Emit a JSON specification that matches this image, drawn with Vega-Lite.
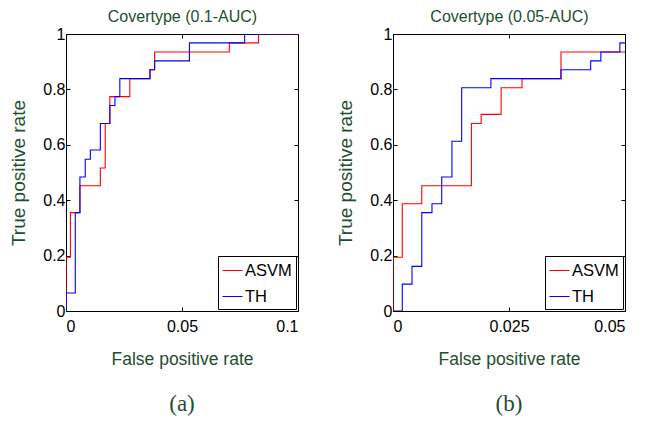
{
  "$schema": "https://vega.github.io/schema/vega-lite/v6.json",
  "padding": {"left": 9, "top": 8, "right": 5, "bottom": 2},
  "background": "white",
  "bounds": "flush",
  "spacing": 95,
  "resolve": {"scale": {"color": "independent"}, "legend": {"color": "independent"}},
  "config": {
    "font": "Liberation Sans",
    "view": {"stroke": "black", "strokeWidth": 1},
    "axis": {
      "labelFont": "Liberation Sans",
      "labelFontSize": 16,
      "labelColor": "black",
      "tickColor": "black",
      "tickSize": -4,
      "domain": false,
      "grid": false,
      "titleFont": "Liberation Sans",
      "titleColor": "#1e4e2e",
      "titleFontWeight": "normal"
    },
    "legend": {
      "orient": "bottom-right",
      "offset": 2,
      "strokeColor": "black",
      "fillColor": "white",
      "padding": 4,
      "cornerRadius": 0,
      "symbolType": "stroke",
      "symbolSize": 400,
      "symbolStrokeWidth": 1,
      "labelFont": "Liberation Sans",
      "labelFontSize": 16.5,
      "labelColor": "black",
      "labelOffset": 2,
      "rowPadding": 7
    },
    "title": {
      "font": "Liberation Serif",
      "fontWeight": "normal",
      "color": "#1e4e2e"
    }
  },
  "hconcat": [
    {
      "title": {"text": "(a)", "orient": "bottom", "frame": "group", "fontSize": 23, "offset": 25},
      "width": 232,
      "height": 277,
      "data": {"values": [
        {"method": "ASVM", "i": 0, "fpr": 0, "tpr": 0},
        {"method": "ASVM", "i": 1, "fpr": 0, "tpr": 0.194},
        {"method": "ASVM", "i": 2, "fpr": 0.0019, "tpr": 0.355},
        {"method": "ASVM", "i": 3, "fpr": 0.006, "tpr": 0.452},
        {"method": "ASVM", "i": 4, "fpr": 0.0148, "tpr": 0.516},
        {"method": "ASVM", "i": 5, "fpr": 0.0169, "tpr": 0.677},
        {"method": "ASVM", "i": 6, "fpr": 0.0189, "tpr": 0.774},
        {"method": "ASVM", "i": 7, "fpr": 0.0275, "tpr": 0.839},
        {"method": "ASVM", "i": 8, "fpr": 0.0362, "tpr": 0.871},
        {"method": "ASVM", "i": 9, "fpr": 0.0382, "tpr": 0.935},
        {"method": "ASVM", "i": 10, "fpr": 0.0704, "tpr": 0.968},
        {"method": "ASVM", "i": 11, "fpr": 0.083, "tpr": 1},
        {"method": "ASVM", "i": 12, "fpr": 0.1, "tpr": 1},
        {"method": "TH", "i": 0, "fpr": 0, "tpr": 0},
        {"method": "TH", "i": 1, "fpr": 0, "tpr": 0.065},
        {"method": "TH", "i": 2, "fpr": 0.004, "tpr": 0.355},
        {"method": "TH", "i": 3, "fpr": 0.006, "tpr": 0.484},
        {"method": "TH", "i": 4, "fpr": 0.0083, "tpr": 0.548},
        {"method": "TH", "i": 5, "fpr": 0.0105, "tpr": 0.581},
        {"method": "TH", "i": 6, "fpr": 0.0148, "tpr": 0.677},
        {"method": "TH", "i": 7, "fpr": 0.0189, "tpr": 0.742},
        {"method": "TH", "i": 8, "fpr": 0.0211, "tpr": 0.774},
        {"method": "TH", "i": 9, "fpr": 0.0232, "tpr": 0.839},
        {"method": "TH", "i": 10, "fpr": 0.0362, "tpr": 0.871},
        {"method": "TH", "i": 11, "fpr": 0.0382, "tpr": 0.903},
        {"method": "TH", "i": 12, "fpr": 0.0532, "tpr": 0.968},
        {"method": "TH", "i": 13, "fpr": 0.077, "tpr": 1},
        {"method": "TH", "i": 14, "fpr": 0.1, "tpr": 1}
      ]},
      "layer": [
        {
          "mark": {"type": "line", "interpolate": "step-after", "strokeWidth": 1.1, "clip": true},
          "encoding": {
            "x": {"field": "fpr", "type": "quantitative", "scale": {"domain": [0, 0.1], "nice": false, "zero": false},
                  "axis": {"orient": "bottom", "values": [0, 0.05, 0.1], "labelExpr": "datum.value", "labelPadding": 11, "title": "False positive rate", "titleFontSize": 17.5, "titlePadding": 16}},
            "y": {"field": "tpr", "type": "quantitative", "scale": {"domain": [0, 1], "nice": false},
                  "axis": {"orient": "left", "values": [0, 0.2, 0.4, 0.6, 0.8, 1], "labelExpr": "datum.value", "labelPadding": 5, "title": "True positive rate", "titleFontSize": 19, "titlePadding": 14}},
            "color": {"field": "method", "type": "nominal", "title": null, "scale": {"domain": ["ASVM", "TH"], "range": ["#ff0000", "#0000ff"]}},
            "order": {"field": "i", "type": "quantitative"}
          }
        },
        {
          "mark": {"type": "line", "interpolate": "step-after", "opacity": 0},
          "encoding": {
            "x": {"field": "fpr", "type": "quantitative", "axis": {"orient": "top", "values": [0, 0.05, 0.1], "labels": false, "title": "Covertype (0.1-AUC)", "titleFontSize": 16, "titlePadding": 9}},
            "y": {"field": "tpr", "type": "quantitative", "axis": {"orient": "right", "values": [0, 0.2, 0.4, 0.6, 0.8, 1], "labels": false, "title": null}},
            "detail": {"field": "method"},
            "order": {"field": "i", "type": "quantitative"}
          }
        }
      ],
      "resolve": {"axis": {"x": "independent", "y": "independent"}}
    },
    {
      "title": {"text": "(b)", "orient": "bottom", "frame": "group", "fontSize": 23, "offset": 25},
      "width": 232,
      "height": 277,
      "data": {"values": [
        {"method": "ASVM", "i": 0, "fpr": 0, "tpr": 0},
        {"method": "ASVM", "i": 1, "fpr": 0, "tpr": 0.194},
        {"method": "ASVM", "i": 2, "fpr": 0.002, "tpr": 0.387},
        {"method": "ASVM", "i": 3, "fpr": 0.0062, "tpr": 0.452},
        {"method": "ASVM", "i": 4, "fpr": 0.0169, "tpr": 0.677},
        {"method": "ASVM", "i": 5, "fpr": 0.019, "tpr": 0.71},
        {"method": "ASVM", "i": 6, "fpr": 0.0233, "tpr": 0.806},
        {"method": "ASVM", "i": 7, "fpr": 0.0278, "tpr": 0.839},
        {"method": "ASVM", "i": 8, "fpr": 0.0362, "tpr": 0.935},
        {"method": "ASVM", "i": 9, "fpr": 0.05, "tpr": 0.935},
        {"method": "TH", "i": 0, "fpr": 0, "tpr": 0},
        {"method": "TH", "i": 1, "fpr": 0.002, "tpr": 0.097},
        {"method": "TH", "i": 2, "fpr": 0.0041, "tpr": 0.161},
        {"method": "TH", "i": 3, "fpr": 0.0062, "tpr": 0.355},
        {"method": "TH", "i": 4, "fpr": 0.0084, "tpr": 0.387},
        {"method": "TH", "i": 5, "fpr": 0.0105, "tpr": 0.484},
        {"method": "TH", "i": 6, "fpr": 0.0127, "tpr": 0.613},
        {"method": "TH", "i": 7, "fpr": 0.0148, "tpr": 0.806},
        {"method": "TH", "i": 8, "fpr": 0.0211, "tpr": 0.839},
        {"method": "TH", "i": 9, "fpr": 0.0362, "tpr": 0.871},
        {"method": "TH", "i": 10, "fpr": 0.0426, "tpr": 0.903},
        {"method": "TH", "i": 11, "fpr": 0.0448, "tpr": 0.935},
        {"method": "TH", "i": 12, "fpr": 0.0489, "tpr": 0.968},
        {"method": "TH", "i": 13, "fpr": 0.05, "tpr": 0.968}
      ]},
      "layer": [
        {
          "mark": {"type": "line", "interpolate": "step-after", "strokeWidth": 1.1, "clip": true},
          "encoding": {
            "x": {"field": "fpr", "type": "quantitative", "scale": {"domain": [0, 0.05], "nice": false, "zero": false},
                  "axis": {"orient": "bottom", "values": [0, 0.025, 0.05], "labelExpr": "datum.value", "labelPadding": 11, "title": "False positive rate", "titleFontSize": 17.5, "titlePadding": 16}},
            "y": {"field": "tpr", "type": "quantitative", "scale": {"domain": [0, 1], "nice": false},
                  "axis": {"orient": "left", "values": [0, 0.2, 0.4, 0.6, 0.8, 1], "labelExpr": "datum.value", "labelPadding": 5, "title": "True positive rate", "titleFontSize": 19, "titlePadding": 14}},
            "color": {"field": "method", "type": "nominal", "title": null, "scale": {"domain": ["ASVM", "TH"], "range": ["#ff0000", "#0000ff"]}},
            "order": {"field": "i", "type": "quantitative"}
          }
        },
        {
          "mark": {"type": "line", "interpolate": "step-after", "opacity": 0},
          "encoding": {
            "x": {"field": "fpr", "type": "quantitative", "axis": {"orient": "top", "values": [0, 0.025, 0.05], "labels": false, "title": "Covertype (0.05-AUC)", "titleFontSize": 16, "titlePadding": 9}},
            "y": {"field": "tpr", "type": "quantitative", "axis": {"orient": "right", "values": [0, 0.2, 0.4, 0.6, 0.8, 1], "labels": false, "title": null}},
            "detail": {"field": "method"},
            "order": {"field": "i", "type": "quantitative"}
          }
        }
      ],
      "resolve": {"axis": {"x": "independent", "y": "independent"}}
    }
  ]
}
